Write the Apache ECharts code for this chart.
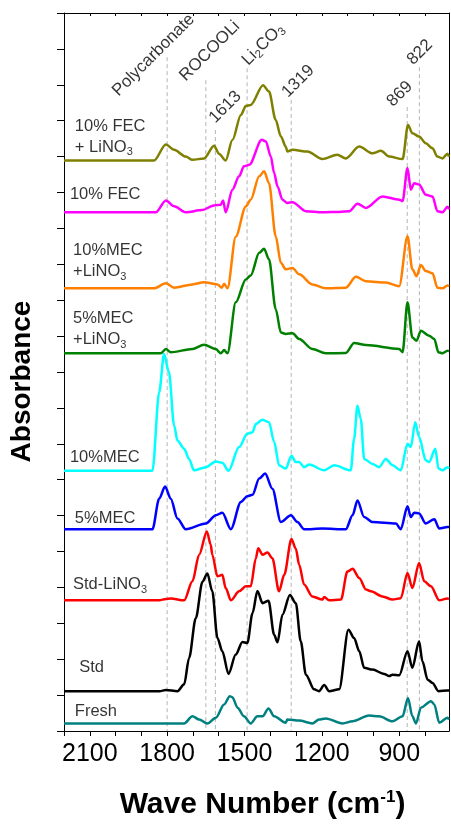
<!DOCTYPE html>
<html>
<head>
<meta charset="utf-8">
<script src="https://cdn.jsdelivr.net/npm/echarts@6/dist/echarts.min.js"></script>
<style>
html, body { margin: 0; padding: 0; background: #fff; }
#chart { width: 451px; height: 825px; }
</style>
</head>
<body>
<div id="chart"></div>
<script>
// each spectrum: [wave number, absorbance above its own baseline]
var fecLino = [[2200,0],[1851,0],[1805,0.45],[1773,0.30],[1728,0.11],[1702,0.02],[1657,0.06],[1618,0.41],[1599,0.19],[1573,0],[1547,0.57],[1514,1.27],[1495,1.52],[1476,1.55],[1428,2.10],[1405,1.92],[1379,1.13],[1359,0.67],[1340,0.39],[1334,0.25],[1314,0.30],[1256,0.25],[1198,0.04],[1140,0.16],[1107,0.06],[1055,0.39],[1004,0.20],[971,0.27],[939,0.11],[887,0.04],[866,0.99],[849,0.76],[823,0.67],[797,0.48],[771,0.34],[752,0.11],[732,0.06],[713,0.19],[707,0.11]];
var fec = [[2200,0],[1844,0],[1805,0.33],[1773,0.17],[1728,0],[1664,0.06],[1618,0.19],[1592,0.21],[1583,0.33],[1573,0],[1547,0.63],[1521,1.00],[1502,1.28],[1482,1.32],[1433,2.02],[1417,1.97],[1398,1.55],[1385,1.09],[1372,0.72],[1353,0.35],[1334,0.26],[1314,0.28],[1262,0.03],[1198,0],[1133,0.01],[1094,0.03],[1062,0.24],[1029,0.12],[965,0.44],[900,0.35],[887,0.31],[868,1.23],[855,0.63],[842,0.81],[823,0.77],[797,0.49],[771,0.44],[752,0.03],[732,0],[713,0.15],[707,0.08]];
var mec10Lino = [[2200,0],[1851,0],[1805,0.14],[1773,0.02],[1702,0.11],[1657,0.17],[1605,0.11],[1588,0.02],[1579,0.13],[1566,0],[1534,1.44],[1495,2.28],[1476,2.47],[1443,3.12],[1424,3.26],[1405,2.93],[1379,1.45],[1359,0.71],[1340,0.53],[1314,0.57],[1288,0.39],[1237,0.11],[1185,0],[1107,0.02],[1068,0.32],[1029,0.20],[952,0.16],[900,0.06],[868,1.45],[849,0.53],[833,0.34],[816,0.65],[797,0.48],[771,0.42],[752,0.02],[732,0],[713,0.08],[707,0.06]];
var mec5Lino = [[2200,0],[1825,0],[1805,0.12],[1786,0.03],[1702,0.12],[1657,0.24],[1611,0.12],[1592,0],[1579,0.09],[1566,0],[1534,1.42],[1495,2.06],[1476,2.17],[1443,2.80],[1424,2.91],[1405,2.62],[1379,1.23],[1359,0.58],[1340,0.54],[1314,0.56],[1288,0.40],[1237,0.12],[1185,0],[1107,0.01],[1075,0.29],[1029,0.23],[900,0.12],[887,0.03],[868,1.42],[849,0.44],[833,0.35],[816,0.63],[784,0.49],[764,0.40],[748,0.03],[732,0],[713,0.07],[707,0.06]];
var mec10 = [[2200,0],[1857,0],[1831,2.18],[1812,3.25],[1793,2.74],[1773,1.26],[1760,0.84],[1734,0.61],[1715,0.33],[1696,0.01],[1650,0.10],[1611,0.26],[1586,0.22],[1562,0],[1521,0.66],[1489,1.03],[1469,1.07],[1456,1.30],[1431,1.42],[1405,1.35],[1385,0.80],[1366,0.15],[1340,0.06],[1318,0.42],[1301,0.24],[1288,0.24],[1269,0.10],[1249,0.17],[1191,0.01],[1152,0.15],[1088,0.01],[1075,0.89],[1062,1.81],[1049,1.44],[1036,0.33],[1004,0.19],[978,0.10],[952,0.33],[926,0.15],[894,0.01],[868,0.75],[855,0.66],[838,1.35],[823,0.94],[797,0.29],[784,0.24],[760,0.61],[748,0.06],[732,0.01],[713,0.10],[707,0.06]];
var mec5 = [[2200,0],[1857,0],[1831,0.85],[1808,1.19],[1786,0.85],[1760,0.30],[1728,0],[1650,0.16],[1611,0.39],[1586,0.46],[1553,0],[1514,0.76],[1489,0.92],[1469,0.96],[1443,1.41],[1420,1.55],[1392,1.13],[1359,0.20],[1320,0.39],[1295,0.20],[1269,0],[1198,0.02],[1107,0],[1081,0.39],[1062,0.80],[1036,0.34],[1004,0.20],[913,0.16],[894,0],[868,0.64],[855,0.34],[842,0.46],[823,0.44],[797,0.16],[764,0.28],[745,0.02],[713,0.06],[707,0.06]];
var stdLino = [[2200,0],[1831,0],[1805,0.04],[1786,0.05],[1734,0],[1702,0.53],[1676,1.27],[1646,1.92],[1631,1.55],[1625,1.27],[1605,0.67],[1586,0.71],[1573,0.34],[1553,0],[1521,0.25],[1495,0.39],[1476,0.39],[1456,1.17],[1447,1.45],[1430,1.27],[1411,1.33],[1392,1.17],[1366,0.25],[1346,0.71],[1318,1.71],[1301,1.44],[1288,0.99],[1269,0.44],[1237,0.11],[1198,0.02],[1191,0.09],[1172,0],[1126,0.02],[1101,0.80],[1081,0.88],[1055,0.62],[1029,0.30],[1010,0.25],[965,0.11],[926,0.02],[894,0.06],[868,0.76],[849,0.34],[823,1.04],[803,0.53],[777,0.39],[745,0],[713,0.05],[707,0.03]];
var std = [[2200,0],[1830,0],[1805,0.03],[1760,0],[1734,0.19],[1715,0.92],[1689,2.03],[1663,3.05],[1644,3.28],[1625,2.78],[1605,1.48],[1586,1.11],[1562,0.48],[1534,1.02],[1508,1.37],[1489,1.34],[1469,2.17],[1450,2.79],[1430,2.45],[1407,2.52],[1385,1.57],[1372,1.36],[1353,2.13],[1324,2.68],[1301,2.45],[1282,1.39],[1262,0.46],[1230,0.05],[1211,0],[1191,0.17],[1172,0],[1133,0.05],[1097,1.71],[1075,1.48],[1055,1.11],[1036,0.65],[1004,0.60],[958,0.48],[939,0.42],[926,0.46],[900,0.44],[868,1.11],[849,0.65],[823,1.39],[810,0.83],[790,0.32],[771,0.23],[748,0],[713,0.02],[707,0.02]];
var fresh = [[2200,0],[1734,0],[1702,0.20],[1676,0.11],[1644,0],[1611,0.16],[1579,0.53],[1557,0.76],[1547,0.73],[1527,0.44],[1502,0.20],[1476,0],[1450,0.20],[1430,0.20],[1407,0.42],[1385,0.20],[1340,0.02],[1334,0.11],[1288,0.08],[1237,0],[1211,0.11],[1185,0.14],[1120,0],[1081,0.06],[1017,0.22],[978,0.20],[926,0.06],[887,0.20],[866,0.71],[849,0.20],[835,0],[816,0.44],[777,0.62],[764,0.53],[745,0.02],[713,0.16],[707,0.11]];

var spectra = [fecLino, fec, mec10Lino, mec5Lino, mec10, mec5, stdLino, std, fresh];
var offsets = [15.89, 14.45, 12.33, 10.52, 7.25, 5.62, 3.64, 1.11, 0.21];
var colors = ['#808000', '#ff00ff', '#ff8000', '#008000', '#00ffff', '#0000ff', '#ff0000', '#000000', '#008080'];
var sampleNames = ['{a|10% FEC}\n{a|+ LiNO}{s|3}', '{a|10% FEC}', '{a|10%MEC}\n{a|+LiNO}{s|3}', '{a|5%MEC}\n{a|+LiNO}{s|3}',
    '{a|10%MEC}', '{a|5%MEC}', '{a|Std-LiNO}{s|3}', '{a|Std}', '{a|Fresh}'];
var sampleLabelPos = [[2158,16.56],[2177,14.94],[2165,13.09],[2165,11.19],[2177,7.61],[2158,5.92],[2165,4.07],[2141,1.76],[2158,0.54]];

// assignment lines
var peakWn = [1800, 1650, 1613, 1490, 1319, 869, 822];
var peakTop = [18.77, 18.13, 16.74, 18.46, 17.58, 17.38, 18.49];
var peakNames = ['{a|Polycarbonate}', '{a|ROCOOLi}', '{a|1613}', '{a|Li}{s|2}{a|CO}{s|3}', '{a|1319}', '{a|869}', '{a|822}'];
var peakLabelPos = [[1973,17.55],[1712,17.97],[1598,16.80],[1470,18.41],[1315,17.52],[908,17.26],[830,18.42]];

var xTickValues = [2200, 2100, 2000, 1900, 1800, 1700, 1600, 1500, 1400, 1300, 1200, 1100, 1000, 900, 800];
var xLabelValues = [2100, 1800, 1500, 1200, 900];

var FONT = 'Liberation Sans, Arial, sans-serif';

var richText = {
    a: { fontFamily: FONT, fontSize: 16.5, color: '#000', lineHeight: 21 },
    s: { fontFamily: FONT, fontSize: 11, color: '#000', lineHeight: 11, verticalAlign: 'bottom' }
};

var series = [];

// dashed guide lines behind the spectra
peakWn.forEach(function (wn, i) {
    series.push({
        type: 'line',
        data: [[wn, peakTop[i]], [wn, 0]],
        symbol: 'none',
        silent: true,
        z: 1,
        lineStyle: { color: '#b4b4b4', width: 1, type: [4, 3] }
    });
});

spectra.forEach(function (sp, i) {
    series.push({
        type: 'line',
        data: sp.map(function (p) { return [p[0], p[1] + offsets[i]]; }),
        symbol: 'none',
        smooth: 0.3,
        smoothMonotone: 'x',
        z: 3,
        lineStyle: { color: colors[i], width: 2.5 }
    });
});

series.push({
    type: 'scatter',
    data: sampleLabelPos,
    symbolSize: 1,
    itemStyle: { color: 'rgba(0,0,0,0)' },
    silent: true,
    z: 5,
    label: {
        show: true,
        position: 'inside',
        align: 'left',
        verticalAlign: 'middle',
        formatter: function (p) { return sampleNames[p.dataIndex]; },
        rich: richText
    }
});

series.push({
    type: 'scatter',
    data: peakLabelPos,
    symbolSize: 1,
    itemStyle: { color: 'rgba(0,0,0,0)' },
    silent: true,
    z: 5,
    label: {
        show: true,
        position: 'inside',
        align: 'left',
        verticalAlign: 'bottom',
        rotate: 45,
        formatter: function (p) { return peakNames[p.dataIndex]; },
        rich: {
            a: { fontFamily: FONT, fontSize: 17, color: '#000', lineHeight: 21 },
            s: { fontFamily: FONT, fontSize: 11.5, color: '#000', lineHeight: 10, verticalAlign: 'bottom' }
        }
    }
});

var chart = echarts.init(document.getElementById('chart'));
chart.setOption({
    animation: false,
    backgroundColor: '#fff',
    grid: { left: 64, right: 2, top: 13, bottom: 92 },
    xAxis: [{
        type: 'value',
        inverse: true,
        min: 707,
        max: 2200,
        name: '{b|Wave Number (cm}{sup|-1}{b|)}',
        nameLocation: 'middle',
        nameGap: 58,
        nameTextStyle: {
            padding: [0, 0, 0, 12],
            rich: {
                b: { fontFamily: FONT, fontSize: 30, fontWeight: 'bold', color: '#000', lineHeight: 32 },
                sup: { fontFamily: FONT, fontSize: 17, fontWeight: 'bold', color: '#000', lineHeight: 14, verticalAlign: 'top' }
            }
        },
        axisLine: { show: true, lineStyle: { color: '#000', width: 1 } },
        axisTick: { show: true, inside: false, length: 5, customValues: xTickValues, lineStyle: { color: '#000' } },
        axisLabel: {
            show: true, customValues: xLabelValues, margin: 11,
            fontFamily: FONT, fontSize: 25, color: '#000',
            formatter: function (v) { return String(v); }
        },
        splitLine: { show: false }
    }, {
        type: 'value',
        position: 'top',
        inverse: true,
        min: 707,
        max: 2200,
        axisLine: { show: true, onZero: false, lineStyle: { color: '#000', width: 1 } },
        axisTick: { show: true, inside: true, length: 3, customValues: xTickValues, lineStyle: { color: '#000' } },
        axisLabel: { show: false },
        splitLine: { show: false }
    }],
    yAxis: [{
        type: 'value',
        min: 0,
        max: 20,
        interval: 1,
        name: 'Absorbance',
        nameLocation: 'middle',
        nameGap: 28,
        nameTextStyle: { fontFamily: FONT, fontSize: 28, fontWeight: 'bold', color: '#000', padding: [0, 19, 0, 0] },
        axisLine: { show: true, lineStyle: { color: '#000', width: 1 } },
        axisTick: { show: true, inside: false, length: 7, lineStyle: { color: '#000' } },
        axisLabel: { show: false },
        splitLine: { show: false }
    }, {
        type: 'value',
        position: 'right',
        min: 0,
        max: 20,
        axisLine: { show: true, onZero: false, lineStyle: { color: '#000', width: 1 } },
        axisTick: { show: false },
        axisLabel: { show: false },
        splitLine: { show: false }
    }],
    series: series
});
</script>
</body>
</html>
